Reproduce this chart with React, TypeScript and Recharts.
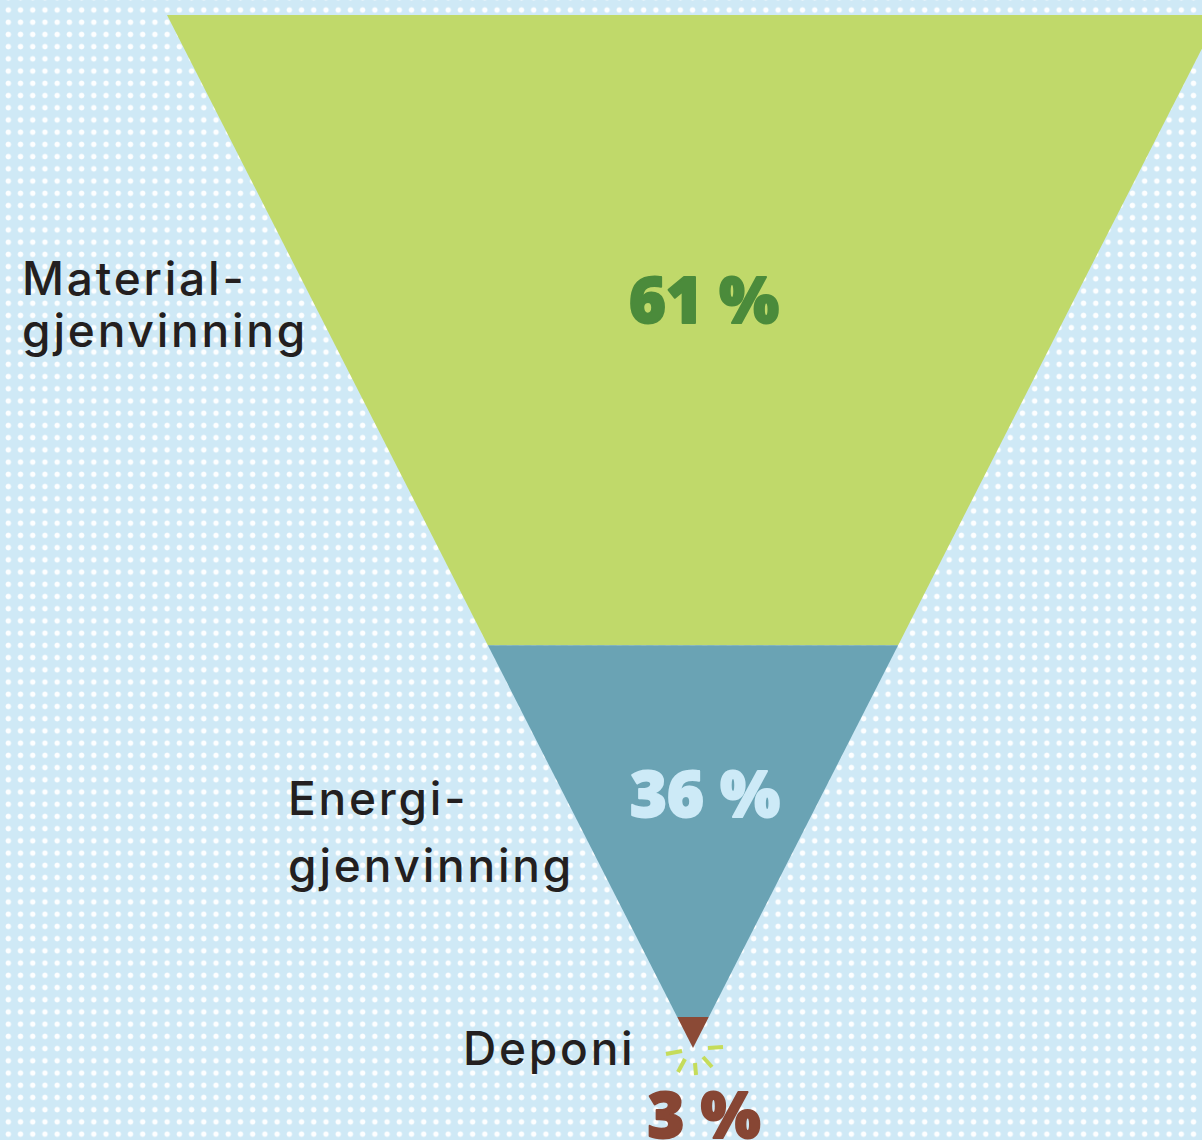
import React from "react";
import { Bar, BarChart, LabelList, XAxis, YAxis } from "recharts";

// andel av avfallet per behandling, fra topp til bunn i trakten
const categories = ["Material-\ngjenvinning", "Energi-\ngjenvinning", "Deponi"];
const shares = [61, 36, 3];
const pctLabels = ["61 %", "36 %", "3 %"];

const FILLS = ["#c0d96a", "#6aa3b4", "#8b4a36"];
const PCT_COLORS = ["#4b8b3b", "#cdeaf7", "#874634"];
const SPARK = "#c5dc5a";

// tekstplassering (sidekoordinater)
const CAT_POS = [
  { x: 22, lines: [295, 347] },
  { x: 288, lines: [815, 882] },
  { x: 463, lines: [1065] },
];
const PCT_POS = [
  { x: 704, y: 323 },
  { x: 705, y: 817 },
  { x: 704, y: 1138 },
];

const TOTAL = shares.reduce((s, v) => s + v, 0);
const starts = shares.map((_, i) => shares.slice(0, i).reduce((s, v) => s + v, 0));

const row: Record<string, string | number> = { name: "avfall" };
shares.forEach((v, i) => {
  row[`s${i}`] = v;
});
const data = [row];

function funnelShape(i: number) {
  return (props: any) => {
    const { x, y, width, height } = props;
    const top = Math.min(y, y + height);
    const bottom = Math.max(y, y + height);
    const cx = x + width / 2;
    const half = width / 2;
    const topHalf = half * (1 - starts[i] / TOTAL);
    const botHalf = half * (1 - (starts[i] + shares[i]) / TOTAL);
    const pts = [
      [cx - topHalf, top],
      [cx + topHalf, top],
      [cx + botHalf, bottom],
      [cx - botHalf, bottom],
    ]
      .map((p) => p.join(","))
      .join(" ");
    const isLast = i === shares.length - 1;
    return (
      <g>
        <polygon points={pts} fill={FILLS[i]} />
        {isLast ? (
          <g stroke={SPARK} strokeWidth={4}>
            <line x1={cx - 27} y1={bottom + 6} x2={cx - 11} y2={bottom + 3} />
            <line x1={cx + 15} y1={bottom} x2={cx + 30} y2={bottom - 1} />
            <line x1={cx - 8} y1={bottom + 11} x2={cx - 15} y2={bottom + 24} />
            <line x1={cx + 2} y1={bottom + 15} x2={cx + 3} y2={bottom + 27} />
            <line x1={cx + 10} y1={bottom + 9} x2={cx + 19} y2={bottom + 19} />
          </g>
        ) : null}
      </g>
    );
  };
}

function labelContent(i: number) {
  return () => {
    const cat = CAT_POS[i];
    const pct = PCT_POS[i];
    return (
      <g>
        <text
          fontFamily="Inter, 'Noto Sans', sans-serif"
          fontSize={46}
          fontWeight={500}
          letterSpacing={2.8}
          fill="#231f20"
        >
          {categories[i].split("\n").map((line, k) => (
            <tspan key={k} x={cat.x} y={cat.lines[k]}>
              {line}
            </tspan>
          ))}
        </text>
        <text
          x={pct.x}
          y={pct.y}
          textAnchor="middle"
          fontFamily="'Open Sans', sans-serif"
          fontSize={63}
          fontWeight={800}
          fill={PCT_COLORS[i]}
          stroke={PCT_COLORS[i]}
          strokeWidth={2}
          strokeLinejoin="round"
        >
          {pctLabels[i]}
        </text>
      </g>
    );
  };
}

export default function App() {
  return (
    <div
      style={{
        position: "absolute",
        left: 0,
        top: 0,
        width: 1202,
        height: 1140,
        overflow: "hidden",
        backgroundColor: "#cfe9f6",
        backgroundImage: "radial-gradient(circle, rgba(255,255,255,0.95) 2.4px, rgba(255,255,255,0) 3.1px)",
        backgroundSize: "12.22px 12.22px",
        backgroundPosition: "2.2px 3.9px",
      }}
    >
      <BarChart
        width={1240}
        height={1140}
        data={data}
        margin={{ top: 15, right: 21, bottom: 92, left: 167 }}
        barCategoryGap={0}
        barGap={0}
      >
        <XAxis dataKey="name" type="category" hide />
        <YAxis type="number" domain={[0, TOTAL]} reversed hide />
        {shares.map((_, i) => (
          <Bar
            key={i}
            dataKey={`s${i}`}
            stackId="trakt"
            fill={FILLS[i]}
            shape={funnelShape(i)}
            isAnimationActive={false}
          >
            <LabelList dataKey={`s${i}`} content={labelContent(i)} />
          </Bar>
        ))}
      </BarChart>
    </div>
  );
}
